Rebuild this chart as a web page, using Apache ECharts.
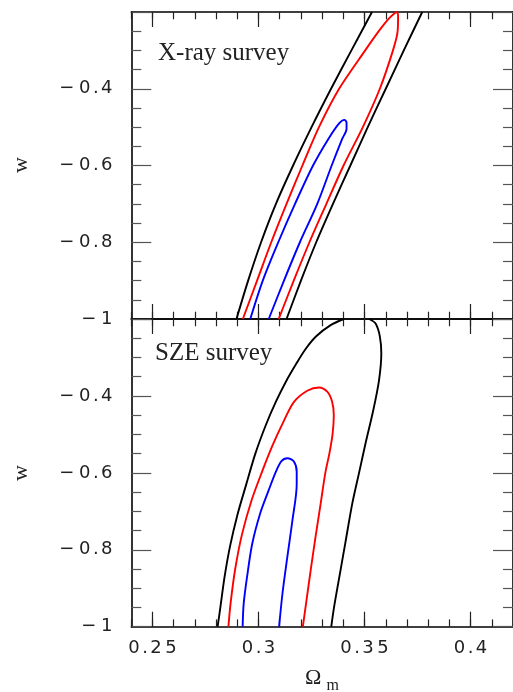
<!DOCTYPE html>
<html><head><meta charset="utf-8">
<script src="https://cdn.jsdelivr.net/npm/echarts@6/dist/echarts.min.js"></script>
<style>html,body{margin:0;padding:0;background:#fff}#c{width:513px;height:692px}</style>
</head><body><div id="c"></div>
<script>
// ---- axis settings / labels ----
const xMajorTicks = [0.25, 0.3, 0.35, 0.4];
const xRange = [0.24, 0.42];
const yRange = [-1, -0.2];
const panelTitles = ['X-ray survey', 'SZE survey'];
const xTitle = 'Ω';
const xTitleSub = 'm';
const yTitle = 'w';

// ---- X-ray survey contours (Omega_m, w) ----
const xrayBlackLeft = [[0.2896,-1],[0.2951,-0.9],[0.3012,-0.8],[0.3082,-0.7],[0.3163,-0.6],[0.3250,-0.5],[0.3342,-0.4],[0.3438,-0.3],[0.3535,-0.2]];
const xrayBlackRight = [[0.3132,-1],[0.3200,-0.9],[0.3272,-0.8],[0.3351,-0.7],[0.3433,-0.6],[0.3515,-0.5],[0.3600,-0.4],[0.3685,-0.3],[0.3772,-0.2]];
const xrayRed = [[0.2926,-1],[0.2993,-0.9],[0.3060,-0.8],[0.3132,-0.7],[0.3207,-0.6],[0.3285,-0.5],[0.3380,-0.4],[0.3503,-0.3],[0.3567,-0.25],[0.3610,-0.22],[0.3636,-0.206],[0.3652,-0.2],
  [0.3658,-0.21],[0.3656,-0.25],[0.3634,-0.3],[0.3572,-0.4],[0.3492,-0.5],[0.3401,-0.6],[0.3320,-0.7],[0.3240,-0.8],[0.3166,-0.9],[0.3095,-1]];
const xrayBlue = [[0.2961,-1],[0.3020,-0.9],[0.3093,-0.8],[0.3172,-0.7],[0.3257,-0.6],[0.3330,-0.53],[0.3380,-0.49],[0.3405,-0.481],
  [0.3415,-0.488],[0.3415,-0.505],[0.3395,-0.53],[0.3345,-0.6],[0.3277,-0.7],[0.3195,-0.8],[0.3120,-0.9],[0.3048,-1]];

// ---- SZE survey contours (Omega_m, w) ----
const szeBlackLeft = [[0.2807,-1],[0.2820,-0.95],[0.2840,-0.87],[0.2866,-0.79],[0.2900,-0.71],[0.2942,-0.63],[0.2985,-0.55],[0.3035,-0.475],[0.3082,-0.415],[0.3129,-0.363],[0.3175,-0.319],[0.3222,-0.278],[0.3272,-0.245],[0.3340,-0.216],[0.3402,-0.2]];
const szeBlackRight = [[0.3522,-0.2],[0.3552,-0.212],[0.3572,-0.245],[0.3579,-0.29],[0.3568,-0.36],[0.3540,-0.44],[0.3506,-0.52],[0.3474,-0.6],[0.3442,-0.68],[0.3410,-0.78],[0.3378,-0.88],[0.3356,-0.95],[0.3343,-1]];
const szeRed = [[0.2858,-1],[0.2868,-0.94],[0.2890,-0.85],[0.2922,-0.76],[0.2968,-0.67],[0.3018,-0.595],[0.3065,-0.53],[0.3115,-0.47],[0.3168,-0.415],[0.3232,-0.386],[0.3285,-0.378],
  [0.3324,-0.389],[0.3347,-0.415],[0.3355,-0.45],[0.3349,-0.5],[0.3334,-0.55],[0.3315,-0.6],[0.3293,-0.68],[0.3269,-0.766],[0.3246,-0.853],[0.3224,-0.94],[0.3209,-1]];
const szeBlue = [[0.2925,-1],[0.2930,-0.94],[0.2946,-0.87],[0.2970,-0.785],[0.3008,-0.705],[0.3048,-0.645],[0.3082,-0.597],[0.3107,-0.570],[0.3136,-0.562],
  [0.3166,-0.570],[0.3180,-0.597],[0.3180,-0.630],[0.3160,-0.723],[0.3136,-0.818],[0.3113,-0.913],[0.3097,-1]];

// ---- helpers ----
const LABEL_FONT = '"DejaVu Sans", sans-serif';
const SERIF = '"Liberation Serif", "DejaVu Serif", serif';
function spaced(s) {
  return s.split('').map(c => c === '−' ? '{m|−}' : (c === '.' ? '{p|.}' : '{d|' + c + '}')).join('');
}
const richDigits = {
  m: {width: 18, align: 'left', fontSize: 18, fontFamily: LABEL_FONT, color: '#222'},
  d: {width: 15, align: 'center', fontSize: 18, fontFamily: LABEL_FONT, color: '#222'},
  p: {width: 7, align: 'center', fontSize: 18, fontFamily: LABEL_FONT, color: '#222'}
};
function fmtNum(v) {
  const a = String(+Math.abs(v).toFixed(3));
  return (v < 0 ? '−' : '') + a;
}

const grids = [
  {left: 131.3, top: 12, width: 384, height: 307},
  {left: 131.3, top: 319, width: 384, height: 307.7}
];

function makeXAxes(gi, withLabels) {
  const base = {type: 'value', gridIndex: gi, min: xRange[0], max: xRange[1], splitLine: {show: false}};
  const line = {show: true, onZero: false, lineStyle: {color: '#000', width: 1.6}};
  const majorTick = {show: true, inside: true, length: 15, customValues: xMajorTicks, lineStyle: {color: '#222', width: 1.2}};
  const minorTick = {show: true, inside: true, length: 7.3, lineStyle: {color: '#222', width: 1.2}};
  return [
    Object.assign({}, base, {position: 'bottom', axisLine: line, axisTick: majorTick,
      axisLabel: withLabels ? {show: true, customValues: xMajorTicks, margin: 13,
        formatter: v => spaced(fmtNum(v)), rich: richDigits} : {show: false}}),
    Object.assign({}, base, {position: 'top', axisLine: line, axisTick: majorTick, axisLabel: {show: false}}),
    Object.assign({}, base, {position: 'bottom', interval: 0.01, axisLine: {show: false, onZero: false}, axisTick: minorTick, axisLabel: {show: false}}),
    Object.assign({}, base, {position: 'top', interval: 0.01, axisLine: {show: false, onZero: false}, axisTick: minorTick, axisLabel: {show: false}})
  ];
}
function makeYAxes(gi) {
  const base = {type: 'value', gridIndex: gi, min: yRange[0], max: yRange[1], interval: 0.2,
    splitLine: {show: false}, minorSplitLine: {show: false},
    axisLine: {show: true, onZero: false, lineStyle: {color: '#000', width: 1.6}},
    axisTick: {show: true, inside: true, length: 20, lineStyle: {color: '#555', width: 1.2}},
    minorTick: {show: true, splitNumber: 4, length: 10, lineStyle: {color: '#555', width: 1.2}}};
  return [
    Object.assign({}, base, {position: 'left', axisLabel: {show: true, showMaxLabel: false, showMinLabel: true, margin: 17,
      formatter: v => spaced(fmtNum(v)), rich: richDigits}}),
    Object.assign({}, base, {position: 'right', axisLabel: {show: false}})
  ];
}

function contour(data, color, xi, yi) {
  return {type: 'line', data: data, xAxisIndex: xi, yAxisIndex: yi, showSymbol: false, symbol: 'none',
    smooth: 0.3, lineStyle: {color: color, width: 1.9}, silent: true, animation: false};
}

const chart = echarts.init(document.getElementById('c'), null, {renderer: 'canvas'});
chart.setOption({
  animation: false,
  backgroundColor: '#fff',
  grid: grids,
  xAxis: makeXAxes(0, false).concat(makeXAxes(1, true)),
  yAxis: makeYAxes(0).concat(makeYAxes(1)),
  series: [
    contour(xrayBlackLeft, '#000', 0, 0),
    contour(xrayBlackRight, '#000', 0, 0),
    contour(xrayRed, '#ff0000', 0, 0),
    contour(xrayBlue, '#0000ff', 0, 0),
    contour(szeBlackLeft, '#000', 4, 2),
    contour(szeBlackRight, '#000', 4, 2),
    contour(szeRed, '#ff0000', 4, 2),
    contour(szeBlue, '#0000ff', 4, 2)
  ],
  graphic: [
    {type: 'text', x: 158, y: 53, style: {text: panelTitles[0], font: '25px ' + SERIF, fill: '#222', align: 'left', verticalAlign: 'middle'}},
    {type: 'text', x: 155, y: 353, style: {text: panelTitles[1], font: '25px ' + SERIF, fill: '#222', align: 'left', verticalAlign: 'middle'}},
    {type: 'text', x: 305, y: 678, style: {text: xTitle, font: '22px ' + SERIF, fill: '#222', align: 'left', verticalAlign: 'middle'}},
    {type: 'text', x: 326.5, y: 686, style: {text: xTitleSub, font: '16px ' + SERIF, fill: '#222', align: 'left', verticalAlign: 'middle'}},
    {type: 'text', x: 21, y: 165, rotation: Math.PI / 2, style: {text: yTitle, font: '22px ' + SERIF, fill: '#222', align: 'center', verticalAlign: 'middle'}},
    {type: 'text', x: 21, y: 473, rotation: Math.PI / 2, style: {text: yTitle, font: '22px ' + SERIF, fill: '#222', align: 'center', verticalAlign: 'middle'}}
  ]
});
</script>
</body></html>
